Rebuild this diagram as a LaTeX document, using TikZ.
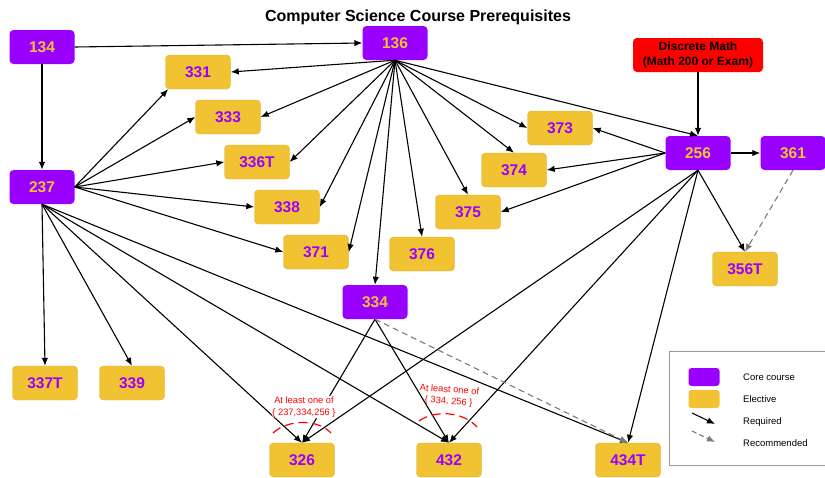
\documentclass[tikz,border=0pt]{standalone}
\usepackage{fontspec}
\setmainfont{Liberation Sans}
\usetikzlibrary{arrows.meta}
\definecolor{core}{HTML}{9900FF}
\definecolor{elec}{HTML}{F1C232}
\definecolor{elecb}{HTML}{DDB02E}
\definecolor{recg}{HTML}{7A7A7A}
\definecolor{legb}{HTML}{9A9A9A}
\begin{document}
\begin{tikzpicture}[x=1pt,y=-1pt,
  box/.style={rectangle, rounded corners=4pt, minimum width=65pt, minimum height=34pt, inner sep=0pt, font=\fontsize{15.5}{15.5}\selectfont\bfseries},
  core/.style={box, fill=core, text=elec},
  elective/.style={box, fill=elec, draw=elecb, line width=0.4pt, text=core},
  req/.style={-{Latex[length=8pt,width=6.5pt]}, line width=1.1pt, black},
  rec/.style={-{Latex[length=8pt,width=6.5pt]}, line width=1.1pt, recg, dash pattern=on 6pt off 4pt},
  note/.style={fill=white, rounded corners=5pt, inner sep=1pt, text=red, align=center, font=\fontsize{9.3}{11.5}\selectfont},
  orarc/.style={red, line width=1.2pt, dash pattern=on 9pt off 5pt},
  legtxt/.style={anchor=west, inner sep=0pt, font=\fontsize{9.5}{11}\selectfont}
]
\useasboundingbox (0,0) rectangle (825,477);

\node (title) at (418,17) {\fontsize{16}{18}\selectfont\bfseries Computer Science Course Prerequisites};

% nodes
\node[core] (n134) at (42,47) {134};
\node[core] (n136) at (395,43) {136};
\node[core] (n237) at (42,187) {237};
\node[core] (n256) at (698,153) {256};
\node[core] (n361) at (793,153) {361};
\node[core] (n334) at (375,302) {334};
\node[box, fill=red, text=black, minimum width=130pt, align=center, font=\fontsize{12}{15}\selectfont\bfseries] (dm) at (698,55) {Discrete Math\\(Math 200 or Exam)};

\node[elective] (n331) at (198,72) {331};
\node[elective] (n333) at (228,117) {333};
\node[elective] (n336) at (257,162) {336T};
\node[elective] (n338) at (287,207) {338};
\node[elective] (n371) at (316,252) {371};
\node[elective] (n376) at (422,254) {376};
\node[elective] (n375) at (468,212) {375};
\node[elective] (n374) at (514,170) {374};
\node[elective] (n373) at (560,128) {373};
\node[elective] (n356) at (745,269) {356T};
\node[elective] (n337) at (45,383) {337T};
\node[elective] (n339) at (132,383) {339};
\node[elective] (n326) at (302,460) {326};
\node[elective] (n432) at (449,460) {432};
\node[elective] (n434) at (628,460) {434T};

% edges from 134
\draw[req] (n134.east) -- (n136.west);
\draw[req] (n134.south) -- (n237.north);

% edges from 136
\draw[req] (n136.south) -- (n331.east);
\draw[req] (n136.south) -- (n333.east);
\draw[req] (n136.south) -- (n336.east);
\draw[req] (n136.south) -- (n338.east);
\draw[req] (n136.south) -- (n371.east);
\draw[req] (n136.south) -- (n334.north);
\draw[req] (n136.south) -- (n376.north);
\draw[req] (n136.south) -- (n375.north);
\draw[req] (n136.south) -- (n374.north);
\draw[req] (n136.south) -- (n373.west);
\draw[req] (n136.south) -- (n256.north);

% edges from 237
\draw[req] (n237.east) -- (n331.210);
\draw[req] (n237.east) -- (n333.west);
\draw[req] (n237.east) -- (n336.west);
\draw[req] (n237.east) -- (n338.west);
\draw[req] (n237.east) -- (n371.west);
\draw[req] (n237.south) -- (n337.north);
\draw[req] (n237.south) -- (n339.north);
\draw[req] (n237.south) -- (n326.north);
\draw[req] (n237.south) -- (n432.north);
\draw[req] (n237.south) -- (n434.north);

% edges from discrete math and 256
\draw[req] (dm.south) -- (n256.north);
\draw[req] (n256.west) -- (n373.east);
\draw[req] (n256.west) -- (n374.east);
\draw[req] (n256.west) -- (n375.east);
\draw[req] (n256.east) -- (n361.west);
\draw[req] (n256.south) -- (n356.north);
\draw[req] (n256.south) -- (n326.north);
\draw[req] (n256.south) -- (n432.north);
\draw[req] (n256.south) -- (n434.north);
\draw[rec] (n361.south) -- (n356.north);

% edges from 334
\draw[req] (n334.south) -- (n326.north);
\draw[req] (n334.south) -- (n432.north);
\draw[rec] (n334.south) -- (n434.north);

% notes
\node[note] (note1) at (304,407) {At least one of\\\{ 237,334,256 \}};
\node[note, rotate=-4, fill=none] (note2) at (449,396) {At least one of\\\{ 334, 256 \}};
\draw[orarc] (273,433) .. controls (288,419) and (318,419) .. (331,433);
\draw[orarc] (419,421) .. controls (434,410) and (463,411) .. (477,427);

% legend
\node[draw=legb, line width=0.8pt, minimum width=157pt, minimum height=114pt, inner sep=0pt] (legend) at (747.5,408) {};
\node[rectangle, rounded corners=3pt, fill=core, minimum width=31pt, minimum height=18pt, inner sep=0pt] (lcore) at (704,377) {};
\node[rectangle, rounded corners=3pt, fill=elec, minimum width=31pt, minimum height=18pt, inner sep=0pt] (lelec) at (704,399) {};
\coordinate (lra) at (692,413);
\coordinate (lrb) at (715,424);
\coordinate (lda) at (692,431);
\coordinate (ldb) at (715,442);
\draw[req] (lra) -- (lrb);
\draw[rec, dash pattern=on 5pt off 3pt] (lda) -- (ldb);
\node[legtxt] (t1) at (743,377) {Core course};
\node[legtxt] (t2) at (743,399) {Elective};
\node[legtxt] (t3) at (743,422) {Required};
\node[legtxt] (t4) at (743,443) {Recommended};
\end{tikzpicture}
\end{document}
